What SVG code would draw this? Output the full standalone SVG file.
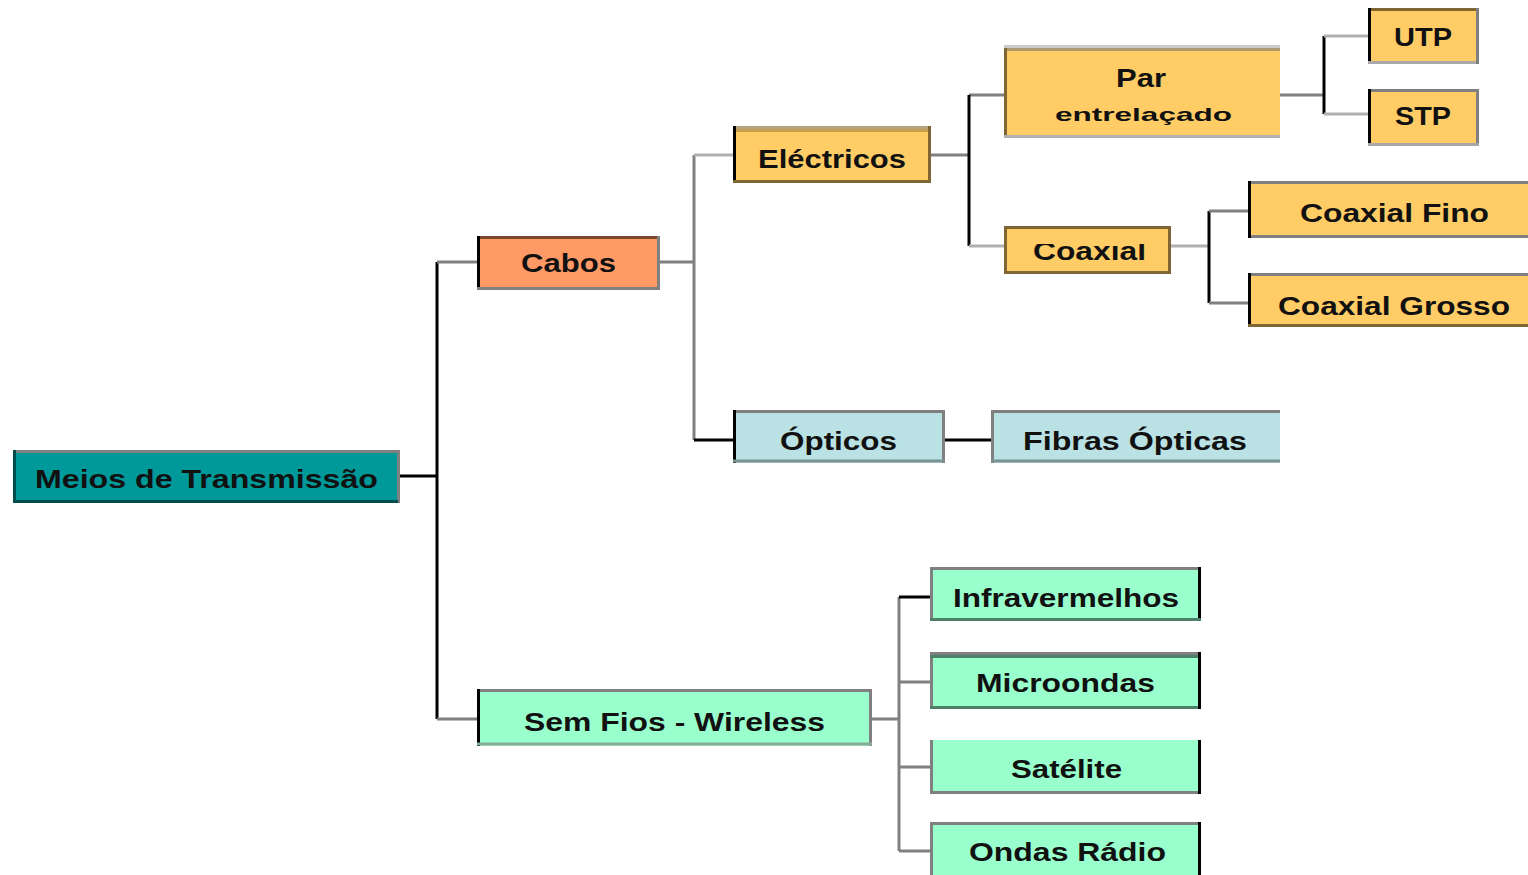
<svg xmlns="http://www.w3.org/2000/svg" width="1528" height="875" viewBox="0 0 1528 875">
<defs>
<style>
text{font-family:"Liberation Sans",Arial,sans-serif;font-weight:bold;fill:#111;text-anchor:start}
.t{font-size:26px}
.s{font-size:19px}
.b{stroke-width:3;fill:none}
.c{fill:none;stroke-width:3}
.k{stroke:#000}
.g{stroke:#808080}
.l{stroke:#b0b0b0}
.y{fill:#FFCC66}
.gr{fill:#99FFCC}
.bl{fill:#BAE1E4}
</style>
<clipPath id="clipCoax"><rect x="1004" y="244" width="167" height="40"/></clipPath>
</defs>
<g id="connectors">
<path class="c k" d="M400 476H437M437 262V719"/>
<path class="c g" d="M437 262H477M437 719H477"/>
<path class="c g" d="M660 262H694M694 155V440"/>
<path class="c l" d="M694 155H733"/>
<path class="c k" d="M694 440H733M945 440H991"/>
<path class="c g" d="M931 155H969M969 95H1004"/>
<path class="c k" d="M969 95V246"/>
<path class="c l" d="M969 246H1004"/>
<path class="c g" d="M1280 95H1324"/>
<path class="c k" d="M1324 36V114"/>
<path class="c l" d="M1324 36H1368M1324 114H1368"/>
<path class="c l" d="M1171 246H1209" stroke-width="4"/>
<path class="c k" d="M1209 211V303"/>
<path class="c g" d="M1209 211H1248M1209 303H1248"/>
<path class="c g" d="M872 719H899M899 597V851M899 682H930M899 767H930M899 851H930"/>
<path class="c k" d="M899 597H930"/>
</g>
<g id="root">
<rect x="13" y="450" width="387" height="53" fill="#009999"/>
<path class="b g" d="M13 451.5H400M398.5 450V503"/>
<path class="b" stroke="#004d4d" d="M14.5 450V503M13 501.5H398"/>
<text class="t" x="35" y="488" textLength="343" lengthAdjust="spacingAndGlyphs">Meios de Transmissão</text>
</g>
<g id="cabos">
<rect x="477" y="236" width="183" height="54" fill="#FF9966"/>
<path class="b" stroke="#7a4a30" d="M477 237.5H660"/>
<path class="b k" d="M478.5 236V290"/>
<path class="b g" d="M477 288.5H660M658.5 236V290"/>
<text class="t" x="521" y="272" textLength="95" lengthAdjust="spacingAndGlyphs">Cabos</text>
</g>
<g id="electricos">
<rect x="733" y="126" width="198" height="57" class="y"/>
<path class="b" stroke="#b3a37f" d="M733 127.5H931"/>
<path class="b" stroke="#c89e50" d="M735 130.5H931"/>
<path class="b k" d="M734.5 126V183"/>
<path class="b" stroke="#806633" d="M733 181.5H931M929.5 126V183"/>
<text class="t" x="758" y="168" textLength="148" lengthAdjust="spacingAndGlyphs">Eléctricos</text>
</g>
<g id="par">
<rect x="1004" y="45" width="276" height="93" class="y"/>
<path class="b" stroke="#cccccc" d="M1004 46.5H1280"/>
<path class="b" stroke="#b09870" d="M1004 49.5H1280"/>
<path class="b" stroke="#806633" d="M1005.5 48V138"/>
<path class="b" stroke="#b0b0b0" d="M1004 136.5H1280"/>
<text class="t" x="1116" y="87" textLength="50" lengthAdjust="spacingAndGlyphs">Par</text>
<text class="s" x="1055" y="121" textLength="177" lengthAdjust="spacingAndGlyphs">entrelaçado</text>
</g>
<g id="utp">
<rect x="1368" y="8" width="111" height="56" class="y"/>
<path class="b" stroke="#806633" d="M1368 9.5H1479"/>
<path class="b k" d="M1369.5 8V64"/>
<path class="b" stroke="#a8a8a8" d="M1368 62.5H1479"/>
<path class="b g" d="M1477.5 8V64"/>
<text class="t" x="1394" y="46" textLength="58" lengthAdjust="spacingAndGlyphs">UTP</text>
</g>
<g id="stp">
<rect x="1368" y="89" width="111" height="57" class="y"/>
<path class="b g" d="M1368 90.5H1479M1477.5 89V146"/>
<path class="b k" d="M1369.5 89V146"/>
<path class="b" stroke="#a8a8a8" d="M1368 144.5H1479"/>
<text class="t" x="1395" y="125" textLength="56" lengthAdjust="spacingAndGlyphs">STP</text>
</g>
<g id="coaxial">
<rect x="1004" y="226" width="167" height="48" class="y"/>
<rect x="1005.5" y="227.5" width="164" height="45" fill="none" stroke="#806633" stroke-width="3"/>
<text class="t" x="1033" y="260" textLength="113" lengthAdjust="spacingAndGlyphs" clip-path="url(#clipCoax)">Coaxial</text>
</g>
<g id="coaxial-fino">
<rect x="1248" y="181" width="280" height="57" class="y"/>
<path class="b g" d="M1248 182.5H1528M1248 236.5H1528"/>
<path class="b k" d="M1249.5 181V238"/>
<text class="t" x="1300" y="222" textLength="189" lengthAdjust="spacingAndGlyphs">Coaxial Fino</text>
</g>
<g id="coaxial-grosso">
<rect x="1248" y="273" width="280" height="54" class="y"/>
<path class="b g" d="M1248 274.5H1528"/>
<path class="b k" d="M1249.5 273V327"/>
<path class="b" stroke="#806633" d="M1248 325.5H1528"/>
<text class="t" x="1278" y="315" textLength="232" lengthAdjust="spacingAndGlyphs">Coaxial Grosso</text>
</g>
<g id="opticos">
<rect x="733" y="410" width="212" height="53" class="bl"/>
<path class="b g" d="M733 411.5H945M943.5 410V463"/>
<path class="b k" d="M734.5 410V463"/>
<path class="b" stroke="#7a9496" d="M733 461H945"/>
<text class="t" x="780" y="450" textLength="117" lengthAdjust="spacingAndGlyphs">Ópticos</text>
</g>
<g id="fibras">
<rect x="991" y="410" width="289" height="53" class="bl"/>
<path class="b g" d="M991 411.5H1280M992.5 410V463"/>
<path class="b" stroke="#7a9496" d="M991 461H1280"/>
<text class="t" x="1023" y="450" textLength="224" lengthAdjust="spacingAndGlyphs">Fibras Ópticas</text>
</g>
<g id="wireless">
<rect x="477" y="689" width="395" height="57" class="gr"/>
<path class="b g" d="M477 690.5H872M870.5 689V746"/>
<path class="b k" d="M478.5 689V746"/>
<path class="b" stroke="#88aa99" d="M477 744H872"/>
<text class="t" x="524" y="731" textLength="301" lengthAdjust="spacingAndGlyphs">Sem Fios - Wireless</text>
</g>
<g id="infravermelhos">
<rect x="930" y="567" width="271" height="54" class="gr"/>
<path class="b g" d="M930 568.5H1201M931.5 567V621"/>
<path class="b k" d="M1199.5 567V621"/>
<path class="b" stroke="#4d806a" d="M930 619.5H1201"/>
<text class="t" x="953" y="607" textLength="226" lengthAdjust="spacingAndGlyphs">Infravermelhos</text>
</g>
<g id="microondas">
<rect x="930" y="652" width="271" height="57" class="gr"/>
<path class="b g" d="M930 653.5H1201M931.5 652V709"/>
<path class="b" stroke="#4d806a" d="M930 656.5H1201M930 707.5H1201"/>
<path class="b k" d="M1199.5 652V709"/>
<text class="t" x="976" y="692" textLength="179" lengthAdjust="spacingAndGlyphs">Microondas</text>
</g>
<g id="satelite">
<rect x="930" y="740" width="271" height="54" class="gr"/>
<path class="b g" d="M931.5 740V794M930 792.5H1201"/>
<path class="b k" d="M1199.5 740V794"/>
<text class="t" x="1011" y="778" textLength="111" lengthAdjust="spacingAndGlyphs">Satélite</text>
</g>
<g id="ondas-radio">
<rect x="930" y="822" width="271" height="53" class="gr"/>
<path class="b g" d="M930 823.5H1201M931.5 822V875"/>
<path class="b k" d="M1199.5 822V875"/>
<text class="t" x="969" y="861" textLength="197" lengthAdjust="spacingAndGlyphs">Ondas Rádio</text>
</g>
</svg>
